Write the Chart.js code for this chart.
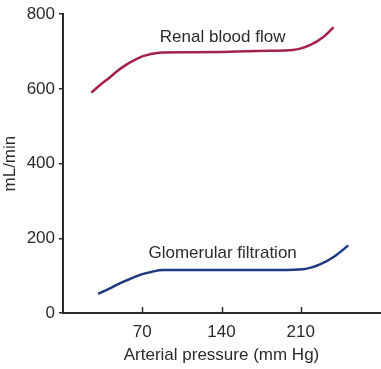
<!DOCTYPE html>
<html>
<head>
<meta charset="utf-8">
<script src="https://cdn.jsdelivr.net/npm/chart.js@4.4.0/dist/chart.umd.min.js"></script>
<style>
  html, body { margin: 0; padding: 0; background: #fff; }
  #wrap { width: 381px; height: 369px; }
</style>
</head>
<body>
<div id="wrap"><canvas id="myChart" width="381" height="369"></canvas></div>
<script>
// values
var renalX = [25, 33, 41, 48, 56, 63, 70, 77, 85, 110, 140, 183, 203, 218, 230, 239];
var renalY = [590, 611, 630, 648, 665, 677, 687, 693, 697, 698, 699, 702, 704, 717, 739, 765];
var gfrX = [31, 41, 48, 56, 63, 70, 78, 88, 140, 192, 212, 227, 240, 252];
var gfrY = [51, 65, 76, 87, 96, 104, 110, 115, 115, 115, 117, 130, 152, 181];
var xTicks = [70, 140, 210];
var yTicks = [0, 200, 400, 600, 800];
var curveLabels = [
  { text: 'Renal blood flow', x: 141, y: 739 },
  { text: 'Glomerular filtration', x: 141, y: 160 }
];

function pts(xs, ys) {
  return xs.map(function (x, i) { return { x: x, y: ys[i] }; });
}

var textColor = '#2b2b2b';
var font = 'Liberation Sans, Arial, Helvetica, sans-serif';

// curve names inside the plot + x tick marks pointing up into the plot
var extras = {
  id: 'extras',
  afterDatasetsDraw: function (chart) {
    var ctx = chart.ctx;
    var xs = chart.scales.x, ys = chart.scales.y;
    ctx.save();
    ctx.strokeStyle = '#2b2b2b';
    ctx.lineWidth = 1.5;
    xTicks.forEach(function (v) {
      var px = Math.round(xs.getPixelForValue(v)) + 0.5;
      ctx.beginPath();
      ctx.moveTo(px, chart.chartArea.bottom);
      ctx.lineTo(px, chart.chartArea.bottom - 6);
      ctx.stroke();
    });
    ctx.font = '17px ' + font;
    ctx.fillStyle = textColor;
    ctx.textAlign = 'center';
    ctx.textBaseline = 'middle';
    curveLabels.forEach(function (l) {
      ctx.fillText(l.text, xs.getPixelForValue(l.x), ys.getPixelForValue(l.y));
    });
    ctx.restore();
  }
};

var ctx = document.getElementById('myChart').getContext('2d');
var chart = new Chart(ctx, {
  type: 'line',
  data: {
    datasets: [{
      label: 'Renal blood flow',
      data: pts(renalX, renalY),
      borderColor: '#a3204f',
      borderWidth: 2.5,
      pointRadius: 0,
      cubicInterpolationMode: 'monotone',
      fill: false
    }, {
      label: 'Glomerular filtration',
      data: pts(gfrX, gfrY),
      borderColor: '#1d3a80',
      borderWidth: 2.5,
      pointRadius: 0,
      cubicInterpolationMode: 'monotone',
      fill: false
    }]
  },
  options: {
    responsive: false,
    animation: false,
    layout: { padding: { top: 6, right: 1, left: 0, bottom: 0 } },
    plugins: {
      legend: { display: false },
      tooltip: { enabled: false }
    },
    scales: {
      x: {
        type: 'linear',
        min: 0,
        max: 280,
        afterBuildTicks: function (s) { s.ticks = xTicks.map(function (v) { return { value: v }; }); },
        afterFit: function (s) { s.height = 56; },
        grid: { drawOnChartArea: false, drawTicks: false },
        border: { color: '#2b2b2b', width: 2 },
        ticks: { color: textColor, font: { size: 17, family: font }, padding: 9, maxRotation: 0 },
        title: {
          display: true,
          text: 'Arterial pressure (mm Hg)',
          color: textColor,
          font: { size: 17, family: font },
          padding: { top: 0, bottom: 3 }
        }
      },
      y: {
        min: 0,
        max: 800,
        afterBuildTicks: function (s) { s.ticks = yTicks.map(function (v) { return { value: v }; }); },
        afterFit: function (s) { s.width = 63; },
        grid: { drawOnChartArea: false, tickLength: 4, color: '#2b2b2b', lineWidth: 1.5 },
        border: { color: '#2b2b2b', width: 2 },
        ticks: { color: textColor, font: { size: 17, family: font }, padding: 4 },
        title: {
          display: true,
          text: 'mL/min',
          color: textColor,
          font: { size: 17, family: font },
          padding: 0
        }
      }
    }
  },
  plugins: [extras]
});
</script>
</body>
</html>
